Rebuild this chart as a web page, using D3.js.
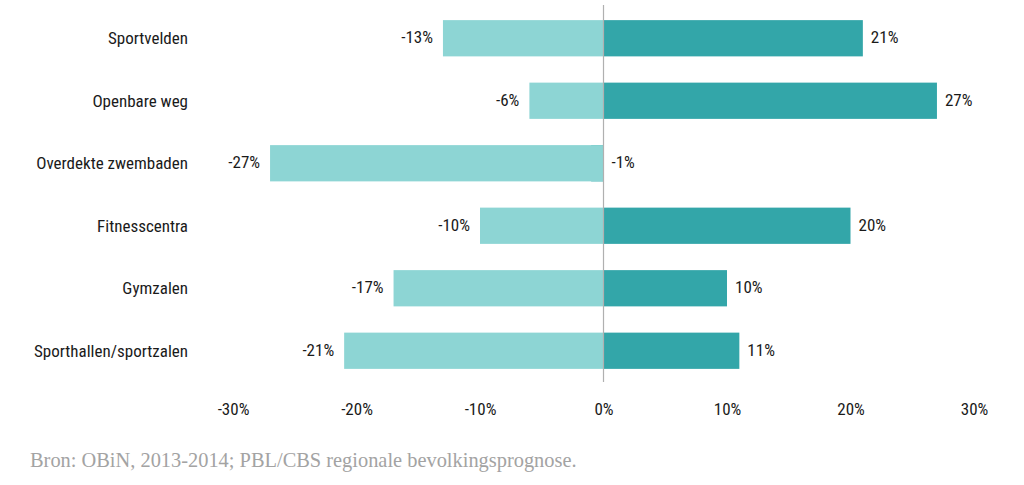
<!DOCTYPE html>
<html>
<head>
<meta charset="utf-8">
<script src="https://cdn.jsdelivr.net/npm/d3@7"></script>
<style>
  body { margin: 0; background: #fff; }
  .lbl { font-family: "Liberation Sans Narrow", "Arial Narrow", "Roboto Condensed", sans-serif; font-size: 17px; fill: #1a1a1a; }
  .src { font-family: "Liberation Serif", "DejaVu Serif", serif; font-size: 20.4px; fill: #a3a3a3; }
</style>
</head>
<body>
<div id="chart"></div>
<script>
// categories top to bottom
var categories = ["Sportvelden", "Openbare weg", "Overdekte zwembaden", "Fitnesscentra", "Gymzalen", "Sporthallen/sportzalen"];
var negValues = [-13, -6, -27, -10, -17, -21];
var posValues = [21, 27, -1, 20, 10, 11];
var tickValues = [-30, -20, -10, 0, 10, 20, 30];

var svgWidth = 1024, svgHeight = 485;
var svg = d3.select("#chart").append("svg")
  .attr("width", svgWidth)
  .attr("height", svgHeight);

var x = d3.scaleLinear().domain([-30, 30]).range([233, 974]);
var y = d3.scaleBand().domain(categories).range([7, 382]).paddingInner(0.42).paddingOuter(0.21);

// dark bars first so the small negative one hides under the light bar
svg.selectAll("rect.pos")
  .data(categories)
  .enter().append("rect")
  .attr("class", "pos")
  .attr("x", (d, i) => x(Math.min(0, posValues[i])))
  .attr("y", d => y(d))
  .attr("width", (d, i) => Math.abs(x(posValues[i]) - x(0)))
  .attr("height", y.bandwidth())
  .attr("fill", "#33a6a9");

svg.selectAll("rect.neg")
  .data(categories)
  .enter().append("rect")
  .attr("class", "neg")
  .attr("x", (d, i) => x(negValues[i]))
  .attr("y", d => y(d))
  .attr("width", (d, i) => x(0) - x(negValues[i]))
  .attr("height", y.bandwidth())
  .attr("fill", "#8dd5d4");

// zero line
svg.append("line")
  .attr("x1", x(0)).attr("x2", x(0))
  .attr("y1", 5).attr("y2", 382)
  .attr("stroke", "#b0b0b0")
  .attr("stroke-width", 1.2);

// category labels
svg.selectAll("text.cat")
  .data(categories)
  .enter().append("text")
  .attr("class", "lbl")
  .attr("x", 188)
  .attr("y", d => y(d) + y.bandwidth() / 2)
  .attr("dy", "0.35em")
  .attr("text-anchor", "end")
  .text(d => d);

// negative value labels
svg.selectAll("text.negv")
  .data(categories)
  .enter().append("text")
  .attr("class", "lbl")
  .attr("x", (d, i) => x(negValues[i]) - 10)
  .attr("y", d => y(d) + y.bandwidth() / 2 - 1)
  .attr("dy", "0.35em")
  .attr("text-anchor", "end")
  .text((d, i) => negValues[i] + "%");

// positive value labels
svg.selectAll("text.posv")
  .data(categories)
  .enter().append("text")
  .attr("class", "lbl")
  .attr("x", (d, i) => x(Math.max(0, posValues[i])) + 8)
  .attr("y", d => y(d) + y.bandwidth() / 2 - 1)
  .attr("dy", "0.35em")
  .text((d, i) => posValues[i] + "%");

// x axis tick labels
var axis = d3.axisBottom(x).tickValues(tickValues).tickSize(0).tickPadding(0)
  .tickFormat(d => d + "%");
var ax = svg.append("g")
  .attr("transform", "translate(0, 403)")
  .call(axis);
ax.select(".domain").remove();
ax.selectAll("text").attr("class", "lbl").attr("fill", null);

// source
svg.append("text")
  .attr("class", "src")
  .attr("x", 30)
  .attr("y", 467)
  .text("Bron: OBiN, 2013-2014; PBL/CBS regionale bevolkingsprognose.");
</script>
</body>
</html>
